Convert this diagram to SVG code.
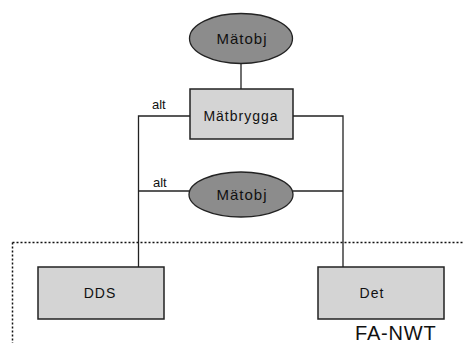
<svg xmlns="http://www.w3.org/2000/svg" width="464" height="343" viewBox="0 0 464 343">
<style>
.box{fill:#d4d4d4;stroke:#222;stroke-width:1.5}
.ell{fill:#8c8c8c;stroke:#222;stroke-width:1.3}
.ln{fill:none;stroke:#222;stroke-width:1.3}
.dot{fill:none;stroke:#111;stroke-width:1.5;stroke-dasharray:2 2}
text{font-family:"Liberation Sans",Arial,sans-serif;fill:#111}
.t{font-size:14px;letter-spacing:1px;text-anchor:middle}
.s{font-size:13px}
</style>
<rect width="464" height="343" fill="#fff"/>
<g id="boundary">
<path class="dot" d="M12.5 242.5 H464 M12.5 242.5 V343"/>
<text x="355" y="340" style="font-size:20px;letter-spacing:0.8px">FA-NWT</text>
</g>
<g id="connectors">
<path class="ln" d="M241 63 V89"/>
<path class="ln" d="M190 116 H138.5 V267"/>
<path class="ln" d="M293 116 H343 V267"/>
<path class="ln" d="M138.5 191 H189"/>
<path class="ln" d="M293 191 H343"/>
<text class="s" x="152" y="109">alt</text>
<text class="s" x="153" y="187">alt</text>
</g>
<g id="matobj1">
<ellipse class="ell" cx="241" cy="38.5" rx="51.5" ry="25"/>
<text class="t" x="242" y="43.5" style="font-size:15px">Mätobj</text>
</g>
<g id="matbrygga">
<rect class="box" x="190" y="89" width="103" height="50"/>
<text class="t" x="241" y="121">Mätbrygga</text>
</g>
<g id="matobj2">
<ellipse class="ell" cx="241" cy="194.5" rx="52" ry="22.5"/>
<text class="t" x="242" y="199.5" style="font-size:15px">Mätobj</text>
</g>
<g id="dds">
<rect class="box" x="38" y="267" width="126" height="52"/>
<text class="t" x="100" y="298">DDS</text>
</g>
<g id="det">
<rect class="box" x="318" y="267" width="126" height="52"/>
<text class="t" x="372" y="298">Det</text>
</g>
</svg>
